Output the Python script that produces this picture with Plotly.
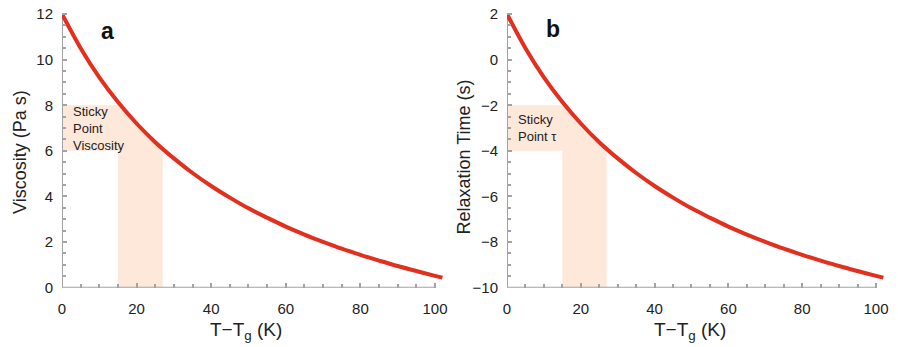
import plotly.graph_objects as go

# ---- data ----
dT = [0, 5, 10, 15, 20, 25, 30, 35, 40, 45, 50, 55, 60, 65, 70, 75, 80, 85, 90, 95, 100, 102]
log_viscosity = [12, 10.5, 9.22, 8.14, 7.2, 6.38, 5.67, 5.03, 4.46, 3.95, 3.48, 3.07,
                 2.68, 2.33, 2.01, 1.71, 1.44, 1.19, 0.95, 0.73, 0.52, 0.44]
log_tau = [2, 0.5, -0.78, -1.86, -2.8, -3.62, -4.33, -4.97, -5.54, -6.05, -6.52, -6.93,
           -7.32, -7.67, -7.99, -8.29, -8.56, -8.81, -9.05, -9.27, -9.48, -9.56]

sticky_dT = [15, 27]           # sticky-point temperature window (K)
sticky_visc = [6, 8]           # sticky-point viscosity band
sticky_tau = [-4, -2]          # sticky-point tau band

x_ticks = [0, 20, 40, 60, 80, 100]
visc_ticks = [0, 2, 4, 6, 8, 10, 12]
tau_ticks = [-10, -8, -6, -4, -2, 0, 2]

RED = "#e2301f"
PEACH = "#fde8da"
AXIS = "#a3a3a3"
FONT = "Liberation Sans, Arial, sans-serif"


def interp(xs, ys, x):
    for i in range(len(xs) - 1):
        if xs[i] <= x <= xs[i + 1]:
            t = (x - xs[i]) / (xs[i + 1] - xs[i])
            return ys[i] + t * (ys[i + 1] - ys[i])
    return ys[-1]


def shade_path(band, base, floor):
    x0, x1 = sticky_dT
    lo, hi = band
    pts = [(0, lo), (0, hi), (x0, hi)]
    pts.append((x0, min(hi, interp(dT, base, x0))))
    for x in dT:
        if x0 < x < x1:
            pts.append((x, min(hi, interp(dT, base, x))))
    pts.append((x1, min(hi, interp(dT, base, x1))))
    pts += [(x1, floor), (x0, floor), (x0, lo)]
    return "M " + " L ".join(f"{x},{y}" for x, y in pts) + " Z"


fig = go.Figure()

fig.add_trace(go.Scatter(x=dT, y=log_viscosity, mode="lines",
                         line=dict(color=RED, width=4, shape="spline"),
                         xaxis="x", yaxis="y", showlegend=False, hoverinfo="skip"))
fig.add_trace(go.Scatter(x=dT, y=log_tau, mode="lines",
                         line=dict(color=RED, width=4, shape="spline"),
                         xaxis="x2", yaxis="y2", showlegend=False, hoverinfo="skip"))

shapes = [
    dict(type="path", path=shade_path(sticky_visc, log_viscosity, visc_ticks[0]), xref="x", yref="y",
         fillcolor=PEACH, line=dict(width=0), layer="below"),
    dict(type="path", path=shade_path(sticky_tau, log_tau, tau_ticks[0]), xref="x2", yref="y2",
         fillcolor=PEACH, line=dict(width=0), layer="below"),
    dict(type="line", xref="x", yref="y", x0=0, x1=x_ticks[-1], y0=visc_ticks[0], y1=visc_ticks[0],
         line=dict(color=AXIS, width=2), layer="below"),
    dict(type="line", xref="x", yref="y", x0=0, x1=0, y0=visc_ticks[0], y1=visc_ticks[-1],
         line=dict(color=AXIS, width=2), layer="below"),
    dict(type="line", xref="x2", yref="y2", x0=0, x1=x_ticks[-1], y0=tau_ticks[0], y1=tau_ticks[0],
         line=dict(color=AXIS, width=2), layer="below"),
    dict(type="line", xref="x2", yref="y2", x0=0, x1=0, y0=tau_ticks[0], y1=tau_ticks[-1],
         line=dict(color=AXIS, width=2), layer="below"),
]

tickfont = dict(family=FONT, size=15, color="#222")


def xax(domain, anchor):
    return dict(domain=domain, range=[0, 102.5], tickvals=x_ticks, ticks="inside", ticklen=5,
                tickwidth=2, tickcolor=AXIS, showline=False, showgrid=False, zeroline=False,
                tickfont=tickfont, anchor=anchor, automargin=False, ticklabelstandoff=10,
                minor=dict(ticks="inside", dtick=5, ticklen=4, tickwidth=2,
                           tickcolor=AXIS, showgrid=False))


def yax(domain, rng, vals, anchor):
    return dict(domain=domain, range=rng, tickvals=vals, ticks="inside", ticklen=5,
                tickwidth=2, tickcolor=AXIS, showline=False, showgrid=False, zeroline=False,
                tickfont=tickfont, anchor=anchor, automargin=False, ticklabelstandoff=8,
                minor=dict(ticks="inside", dtick=0.5, ticklen=4, tickwidth=2,
                           tickcolor=AXIS, showgrid=False))


ydom = [1 - 287.7 / 347, 1 - 7.2 / 347]

annotations = [
    dict(text="Sticky<br>Point<br>Viscosity", xref="x", yref="y", x=0, y=sum(sticky_visc) / 2,
         xanchor="left", yanchor="middle", xshift=9, align="left", showarrow=False,
         font=dict(family=FONT, size=13, color="#222")),
    dict(text="Sticky<br>Point τ", xref="x2", yref="y2", x=0, y=sum(sticky_tau) / 2,
         xanchor="left", yanchor="middle", xshift=9, align="left", showarrow=False,
         font=dict(family=FONT, size=13, color="#222")),
    dict(text="<b>a</b>", xref="paper", yref="paper", x=107.5 / 898, y=1 - 31 / 347,
         xanchor="center", yanchor="middle", showarrow=False,
         font=dict(family=FONT, size=23, color="#111")),
    dict(text="<b>b</b>", xref="paper", yref="paper", x=553 / 898, y=1 - 29 / 347,
         xanchor="center", yanchor="middle", showarrow=False,
         font=dict(family=FONT, size=23, color="#111")),
    dict(text="Viscosity (Pa s)", xref="paper", yref="paper", x=20 / 898, y=1 - 152 / 347,
         textangle=-90, xanchor="center", yanchor="middle", showarrow=False,
         font=dict(family=FONT, size=18, color="#222")),
    dict(text="Relaxation Time (s)", xref="paper", yref="paper", x=463.5 / 898, y=1 - 157 / 347,
         textangle=-90, xanchor="center", yanchor="middle", showarrow=False,
         font=dict(family=FONT, size=18, color="#222")),
    dict(text="T−T<sub>g</sub> (K)", xref="paper", yref="paper", x=246 / 898, y=1 - 331 / 347,
         xanchor="center", yanchor="middle", showarrow=False,
         font=dict(family=FONT, size=19, color="#222")),
    dict(text="T−T<sub>g</sub> (K)", xref="paper", yref="paper", x=690 / 898, y=1 - 331 / 347,
         xanchor="center", yanchor="middle", showarrow=False,
         font=dict(family=FONT, size=19, color="#222")),
]

fig.update_layout(
    width=898, height=347, autosize=False,
    margin=dict(l=0, r=0, t=0, b=0),
    paper_bgcolor="white", plot_bgcolor="white",
    xaxis=xax([62 / 898, 444.3 / 898], "y"),
    xaxis2=xax([507 / 898, 885.2 / 898], "y2"),
    yaxis=yax(ydom, [0, 12.3], visc_ticks, "x"),
    yaxis2=yax(ydom, [-10, 2.3], tau_ticks, "x2"),
    shapes=shapes, annotations=annotations, showlegend=False,
)

fig.write_html("out.html", config={"displayModeBar": False},
               post_script="document.body.style.margin='0';document.body.style.overflow='hidden';")
